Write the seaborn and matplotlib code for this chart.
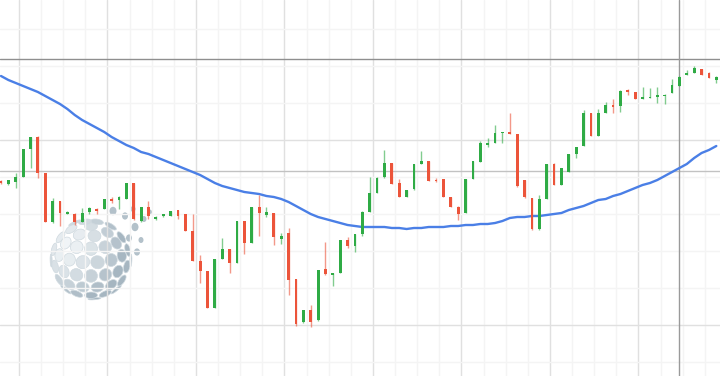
import numpy as np
import pandas as pd
import seaborn as sns
import matplotlib.pyplot as plt
from matplotlib.patches import Ellipse
from matplotlib.colors import to_rgb

# OHLC (arbitrary price units), one value per candle
open_ = [21.9, 21.6, 21.8, 22.3, 25.1, 26.3, 22.7, 17.8, 19.9, 18.6,
         18.6, 17.8, 18.8, 19.1, 19.1, 20.1, 20.0, 20.1, 21.7, 17.9,
         19.3, 18.1, 18.4, 18.4, 19.0, 18.6, 16.9, 13.9, 12.9, 9.2,
         14.1, 15.1, 13.7, 17.9, 15.7, 19.3, 18.5, 18.7, 16.1, 16.7,
         12.1, 7.8, 9.0, 8.0, 13.1, 12.5, 12.7, 16.0, 15.4, 16.6,
         18.8, 20.7, 22.3, 23.7, 21.7, 20.3, 21.1, 23.6, 23.9, 22.0,
         22.1, 20.3, 19.3, 18.7, 22.1, 23.8, 25.5, 25.7, 26.7, 26.8,
         26.6, 22.0, 20.2, 17.1, 20.1, 23.6, 21.5, 22.8, 24.6, 25.4,
         28.7, 26.4, 28.7, 29.5, 29.4, 31.0, 30.8, 30.1, 30.2, 30.3,
         30.4, 30.7, 31.4, 32.5, 32.7, 33.1, 32.7, 32.0]
high = [22.0, 22.0, 22.7, 25.1, 26.3, 26.4, 22.7, 20.2, 19.9, 18.9,
        18.7, 19.2, 19.3, 19.2, 20.1, 20.3, 20.4, 21.7, 21.7, 19.3,
        19.9, 18.4, 18.6, 18.9, 19.0, 18.6, 18.6, 14.5, 12.9, 14.1,
        16.2, 15.1, 17.9, 17.9, 19.3, 20.5, 19.3, 18.7, 16.7, 17.2,
        12.1, 9.0, 9.5, 13.0, 15.8, 12.7, 16.0, 16.3, 16.6, 18.9,
        22.3, 22.3, 25.0, 23.7, 22.1, 21.0, 23.6, 24.9, 23.9, 22.2,
        22.1, 20.3, 19.4, 22.1, 23.9, 25.9, 26.2, 27.5, 26.8, 28.7,
        26.6, 22.0, 20.2, 20.5, 23.6, 23.7, 23.2, 24.6, 25.3, 29.0,
        28.7, 29.1, 29.8, 30.1, 31.0, 31.1, 30.8, 31.3, 31.2, 31.3,
        30.6, 32.1, 32.4, 33.0, 33.4, 33.1, 32.8, 32.4]
low = [21.6, 21.5, 21.2, 22.3, 23.2, 22.2, 17.8, 17.7, 17.4, 18.6,
       17.5, 17.8, 18.6, 18.6, 19.1, 19.7, 19.1, 20.1, 18.0, 17.8,
       18.1, 18.0, 18.3, 18.4, 18.1, 16.9, 13.9, 11.7, 9.2, 9.2,
       14.1, 12.7, 13.7, 14.6, 15.7, 16.4, 18.3, 15.5, 15.6, 10.5,
       7.4, 7.7, 7.3, 7.9, 12.5, 11.4, 12.7, 15.2, 14.8, 16.4,
       18.8, 20.7, 22.2, 21.6, 20.3, 20.3, 21.0, 23.6, 21.9, 21.8,
       20.3, 19.3, 18.0, 18.7, 22.1, 23.8, 25.3, 25.7, 25.7, 26.6,
       21.3, 20.2, 17.0, 17.0, 20.1, 21.5, 21.5, 22.8, 24.2, 25.4,
       26.4, 26.4, 28.7, 28.7, 28.8, 30.5, 30.1, 30.1, 30.2, 29.7,
       29.6, 30.7, 31.4, 32.5, 32.7, 32.5, 32.2, 31.7]
close = [21.7, 22.0, 22.3, 25.1, 26.3, 22.7, 17.8, 19.9, 18.7, 18.8,
         17.8, 18.7, 19.2, 18.9, 20.1, 19.9, 20.3, 21.7, 18.1, 19.3,
         18.4, 18.3, 18.6, 18.9, 18.4, 16.9, 13.9, 12.9, 9.2, 14.1,
         15.1, 13.7, 17.9, 15.7, 19.3, 18.7, 18.8, 16.3, 16.4, 12.0,
         7.6, 9.0, 7.8, 13.0, 12.6, 12.7, 16.0, 15.4, 16.6, 18.8,
         20.7, 22.2, 23.7, 21.6, 20.3, 21.0, 23.6, 23.9, 21.9, 21.9,
         20.3, 19.3, 18.6, 22.1, 23.9, 25.7, 25.7, 26.7, 26.8, 26.6,
         21.4, 20.3, 17.1, 20.1, 23.6, 21.5, 23.2, 24.6, 25.3, 28.7,
         26.4, 28.7, 29.5, 29.3, 30.9, 30.8, 30.1, 30.3, 30.3, 30.5,
         30.5, 31.5, 32.3, 32.7, 33.2, 32.5, 32.2, 32.3]
# moving average as drawn on the chart
ma = [32.4, 32.0, 31.7, 31.4, 31.1, 30.8, 30.4, 30.0, 29.6, 29.1,
      28.5, 28.0, 27.6, 27.2, 26.8, 26.3, 25.9, 25.5, 25.2, 24.8,
      24.6, 24.3, 24.0, 23.7, 23.4, 23.1, 22.8, 22.5, 22.1, 21.7,
      21.4, 21.2, 21.0, 20.8, 20.7, 20.6, 20.4, 20.3, 20.1, 19.8,
      19.4, 19.0, 18.6, 18.3, 18.1, 17.9, 17.7, 17.5, 17.4, 17.3,
      17.3, 17.3, 17.3, 17.2, 17.2, 17.1, 17.2, 17.2, 17.3, 17.3,
      17.3, 17.4, 17.4, 17.5, 17.5, 17.6, 17.6, 17.7, 17.9, 18.2,
      18.3, 18.3, 18.4, 18.4, 18.5, 18.6, 18.7, 19.0, 19.2, 19.4,
      19.7, 20.0, 20.1, 20.4, 20.6, 20.9, 21.2, 21.5, 21.7, 22.0,
      22.4, 22.8, 23.2, 23.6, 24.2, 24.7, 25.0, 25.4]
crosshair_price = 34.1
crosshair_bar = 92
level_line = 22.9

df = pd.DataFrame({'t': np.arange(len(open_)), 'open': open_, 'high': high,
                   'low': low, 'close': close, 'ma': ma})
df['up'] = df['close'] >= df['open']

sns.set_theme(style='white')
UP, DOWN = '#2fab45', '#ec543a'

fig = plt.figure(figsize=(7.2, 3.76), dpi=100)
ax = fig.add_axes([0, 0, 1, 1])
ax.set_zorder(1)
ax.patch.set_alpha(0)

# watermark sphere (behind the chart), drawn in pixel units
wm = fig.add_axes([40 / 720, 1 - 310 / 376, 120 / 720, 110 / 376], zorder=0)
wm.set_xlim(40, 160)
wm.set_ylim(310, 200)
wm.axis('off')
light, dark = np.array(to_rgb('#f1f5f7')), np.array(to_rgb('#a6b6c1'))
cx, cy, R, step = 91, 259, 40, 15.0
sun = np.array([-0.6, 0.35, 0.72])
tilt = np.radians(25)
for lat_deg in np.arange(-80, 81, 20):
    lat = np.radians(lat_deg)
    n = max(1, int(round(2 * np.pi * R * np.cos(lat) / step)))
    for k in range(n):
        lon = np.radians(k * 360 / n + 10 * (lat_deg // 20 % 2))
        p = np.array([np.cos(lat) * np.sin(lon), np.sin(lat), np.cos(lat) * np.cos(lon)])
        # tilt towards the viewer
        p = np.array([p[0], p[1] * np.cos(tilt) - p[2] * np.sin(tilt),
                      p[1] * np.sin(tilt) + p[2] * np.cos(tilt)])
        if p[2] <= 0.05:
            continue
        x, y = cx + R * p[0], cy - R * p[1]
        t = np.clip(1 - p @ sun, 0, 1) ** 0.8
        col = light * (1 - t) + dark * t
        d = 0.86 * step
        ang = np.degrees(np.arctan2(-p[1], p[0]))
        wm.add_patch(Ellipse((x, y), d * p[2] + 1, d, angle=ang,
                             facecolor=col, edgecolor='#cfd9df', lw=0.5))
for x, y, s in [(113, 211, 7), (125, 216, 6), (135, 227, 7), (141, 240, 5),
                (133, 209, 5), (144, 219, 5), (150, 212, 4), (137, 252, 6),
                (129, 238, 6)]:
    wm.add_patch(Ellipse((x, y), s, s * 1.2, color='#b3c1ca', lw=0))

# grid
maj_x = 2.44 + 12 * np.arange(8)
min_x = 2.44 + 3 * np.arange(33)
min_y = 37.1 - 3.7 * np.arange(10)
ax.set_xticks(maj_x)
ax.set_xticks(min_x, minor=True)
ax.set_yticks([26.0, 7.5])
ax.set_yticks(min_y, minor=True)
ax.grid(which='major', color='#e0e0e0', lw=1)
ax.grid(which='minor', color='#f4f4f4', lw=1)
ax.tick_params(which='both', length=0, labelbottom=False, labelleft=False)
for s in ax.spines.values():
    s.set_visible(False)

ax.axhline(level_line, color='#c2c2c2', lw=1, zorder=2)
ax.axhline(crosshair_price, color='#8f8f8f', lw=1, zorder=2)
ax.axvline(crosshair_bar, color='#9a9a9a', lw=1, zorder=2)

# moving average
sns.lineplot(x='t', y='ma', data=df, color='#4a7fe6', lw=1.7, ax=ax, zorder=3)

# candles
for up, col in [(True, UP), (False, DOWN)]:
    d = df[df['up'] == up]
    ax.vlines(d['t'], d['low'], d['high'], color=col, lw=1, alpha=0.6, zorder=4)
    body = np.maximum((d['close'] - d['open']).abs(), 0.15)
    ax.bar(d['t'], body, bottom=np.minimum(d['open'], d['close']), width=0.38,
           color=col, lw=0, zorder=5)

ax.set_xlim(-0.136, 97.5)
ax.set_ylim(2.4, 40.0)
ax.set_xlabel('')
ax.set_ylabel('')

fig.savefig('out.png', dpi=100)
